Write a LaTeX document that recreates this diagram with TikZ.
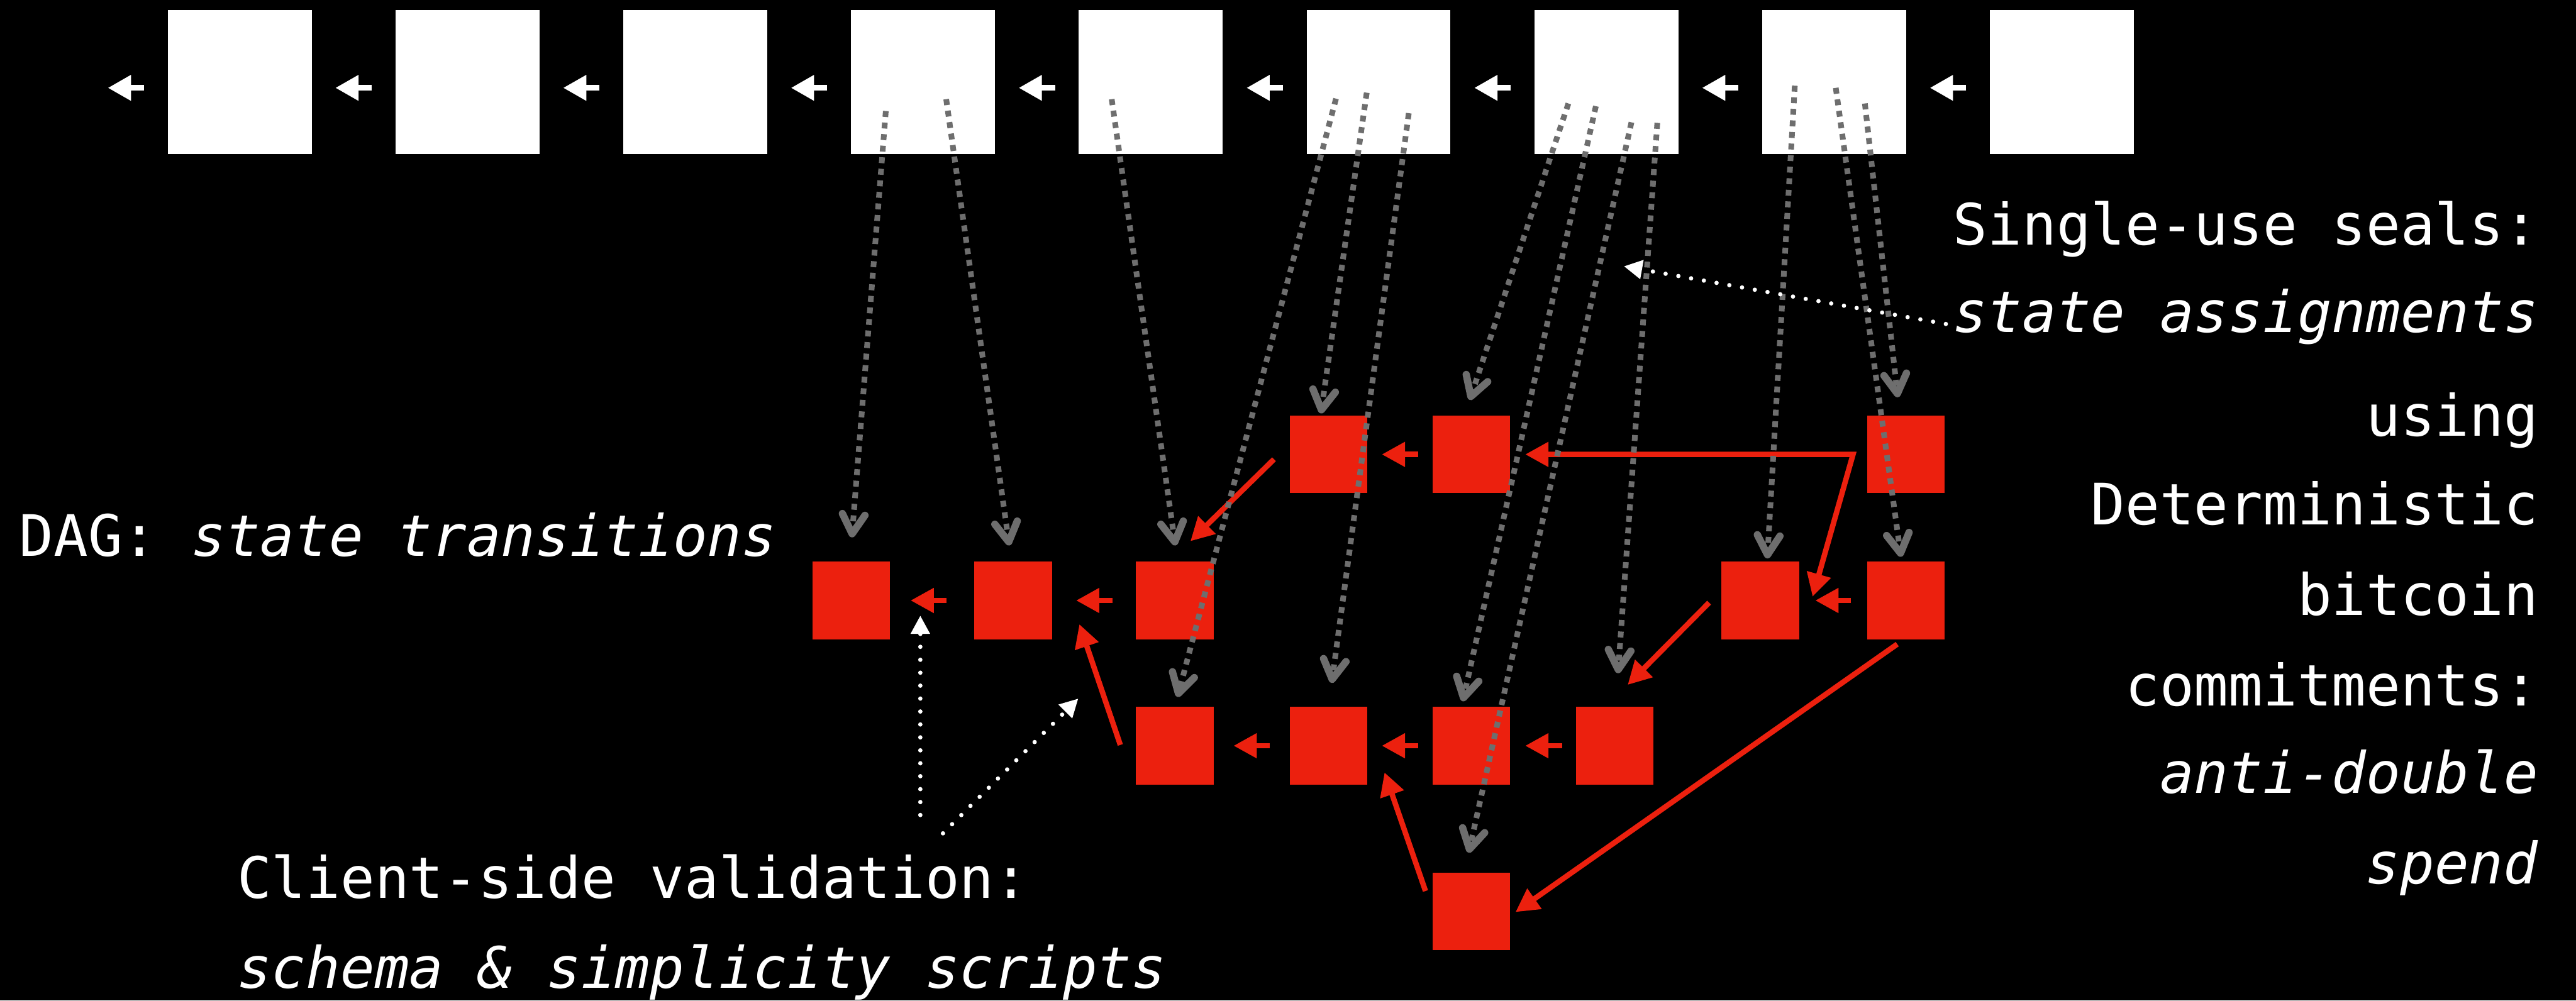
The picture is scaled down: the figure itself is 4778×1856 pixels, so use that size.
\documentclass[tikz,border=0pt]{standalone}
\usepackage{fontspec}
\setmonofont{DejaVu Sans Mono}[ItalicFont={DejaVu Sans Mono Oblique}]
\frenchspacing
\usetikzlibrary{arrows.meta}
\definecolor{dagred}{RGB}{236,32,14}
\definecolor{sealgray}{RGB}{110,110,110}

\begin{document}
\begin{tikzpicture}[x=1pt,y=-1pt,
  block/.style={fill=white, minimum size=267pt, inner sep=0pt, outer sep=0pt},
  redbox/.style={fill=dagred, minimum size=144pt, inner sep=0pt, outer sep=0pt},
  whitetip/.tip={Triangle[length=43pt,width=45pt]},
  redtip/.tip={Triangle[length=43pt,width=44pt]},
  graytip/.tip={Straight Barb[length=36pt,width=42pt,line width=3pt 1,round]},
  notetip/.tip={Triangle[length=34pt,width=34pt]},
  blocklink/.style={draw=white, line width=11pt, -whitetip},
  statelink/.style={draw=dagred, line width=10pt, -redtip},
  seal/.style={draw=sealgray, line width=10.5pt, dash pattern=on 11pt off 10.5pt, -graytip},
  note/.style={draw=white, line width=8pt, line cap=round, dash pattern=on 0pt off 24pt, -notetip},
  txt/.style={text=white, font=\ttfamily\fontsize{106pt}{127pt}\selectfont, inner sep=0pt, outer sep=0pt},
]
\useasboundingbox (0,0) rectangle (4778,1856);
\fill[black] (0,0) rectangle (4778,1856);

% blockchain
\foreach \i in {1,...,9}
  \node[block] (T\i) at ({444.5+422.5*(\i-1)},152.5) {};
\foreach \a/\b in {1/2,2/3,3/4,4/5,5/6,6/7,7/8,8/9}
  \draw[blocklink, shorten <=44pt, shorten >=44pt]
    ([shift={(0,10.5)}]T\b.west) -- ([shift={(0,10.5)}]T\a.east);
\coordinate (genesis) at (200,163);
\draw[blocklink, shorten <=44pt] ([shift={(0,10.5)}]T1.west) -- (genesis);

% state DAG
\node[redbox] (A2) at (1579,1114) {};
\node[redbox] (B2) at (1879,1114) {};
\node[redbox] (C2) at (2179,1114) {};
\node[redbox] (D1) at (2464,843) {};
\node[redbox] (E1) at (2729,843) {};
\node[redbox] (H1) at (3535,843) {};
\node[redbox] (G2) at (3265,1114) {};
\node[redbox] (H2) at (3535,1114) {};
\node[redbox] (C3) at (2179,1383.5) {};
\node[redbox] (D3) at (2464,1383.5) {};
\node[redbox] (E3) at (2729,1383.5) {};
\node[redbox] (F3) at (2995,1383.5) {};
\node[redbox] (E4) at (2729,1690.5) {};

% short transition arrows
\draw[statelink, shorten <=27pt, shorten >=27pt] (E1) -- (D1);
\draw[statelink, shorten <=52pt, shorten >=38pt] (B2) -- (A2);
\draw[statelink, shorten <=44pt, shorten >=45pt] (C2) -- (B2);
\draw[statelink, shorten <=30pt, shorten >=30pt] (H2) -- (G2);
\draw[statelink, shorten <=37pt, shorten >=37pt] (D3) -- (C3);
\draw[statelink, shorten <=27pt, shorten >=27pt] (E3) -- (D3);
\draw[statelink, shorten <=26pt, shorten >=28pt] (F3) -- (E3);

% long transition arrows
\coordinate (split) at ([shift={(-26,0)}]H1.west);
\draw[statelink, redtip-redtip] ([shift={(28,0)}]E1.east) -- (split) -- ([shift={(25,-7)}]G2.east);
\draw[statelink] ([shift={(-29,9)}]D1.west) -- ([shift={(29,-38)}]C2.north);
\draw[statelink] ([shift={(-23,4)}]G2.west) -- ([shift={(24,-41)}]F3.north);
\draw[statelink] ([shift={(-16,9)}]H2.south) -- ([shift={(10,1.5)}]E4.east);
\coordinate (de3) at (2568,1433);
\coordinate (bc2) at (2002,1158);
\draw[statelink] ([shift={(-13,-37.5)}]E4.west) -- (de3);
\draw[statelink] ([shift={(-29,-1.5)}]C3.west) -- (bc2);

% single-use seals
\draw[seal] ([shift={(-69,53.5)}]T4.center) -- ([shift={(1,-117)}]A2.center);
\draw[seal] ([shift={(43,31.5)}]T4.center) -- ([shift={(-7,-102)}]B2.center);
\draw[seal] ([shift={(-72.5,31.5)}]T5.center) -- ([shift={(1,-102)}]C2.center);
\draw[seal] ([shift={(-79,30.5)}]T6.center) -- ([shift={(5,-90.5)}]C3.center);
\draw[seal] ([shift={(-22,19.5)}]T6.center) -- ([shift={(-14,-76)}]D1.center);
\draw[seal] ([shift={(56,57.5)}]T6.center) -- ([shift={(6,-116.5)}]D3.center);
\draw[seal] ([shift={(-70.5,39.5)}]T7.center) -- ([shift={(-3,-101)}]E1.center);
\draw[seal] ([shift={(-19.5,44.5)}]T7.center) -- ([shift={(-16,-82.5)}]E3.center);
\draw[seal] ([shift={(46.5,74.5)}]T7.center) -- ([shift={(-5,-108.5)}]E4.center);
\draw[seal] ([shift={(94.5,75.5)}]T7.center) -- ([shift={(6,-134.5)}]F3.center);
\draw[seal] ([shift={(-73,6.5)}]T8.center) -- ([shift={(13,-78)}]G2.center);
\draw[seal] ([shift={(3,10.5)}]T8.center) -- ([shift={(-9,-81)}]H2.center);
\draw[seal] ([shift={(57,39.5)}]T8.center) -- ([shift={(-15,-106)}]H1.center);

% labels
\node[txt, anchor=base west] (dag) at (36,1032) {DAG: \textit{state transitions}};
\node[txt, anchor=base west] (csv) at (440,1666) {Client-side validation:};
\node[txt, anchor=base west] (scr) at (440,1833) {\textit{schema \& simplicity scripts}};
\node[txt, anchor=base east] (sus) at (4708,454) {Single-use seals:};
\node[txt, anchor=base east] (sas) at (4708,617) {\textit{state assignments}};
\node[txt, anchor=base east] (dl1) at (4708,809) {using};
\node[txt, anchor=base east] (dl2) at (4708,974) {Deterministic};
\node[txt, anchor=base east] (dl3) at (4708,1141) {bitcoin};
\node[txt, anchor=base east] (dl4) at (4708,1309) {commitments:};
\node[txt, anchor=base east] (dl5) at (4708,1472) {\textit{anti-double}};
\node[txt, anchor=base east] (dl6) at (4708,1639) {\textit{spend}};

% annotation pointers
\coordinate (sealpt) at (3012,494);
\draw[note] ([shift={(-14,-16)}]sas.base west) -- (sealpt);
\coordinate (csvA) at (1707,1512);
\coordinate (csvB) at (1749,1546);
\coordinate (abgap) at (1707,1142);
\coordinate (bcgap) at (2000,1296);
\draw[note] (csvA) -- (abgap);
\draw[note] (csvB) -- (bcgap);
\end{tikzpicture}
\end{document}
